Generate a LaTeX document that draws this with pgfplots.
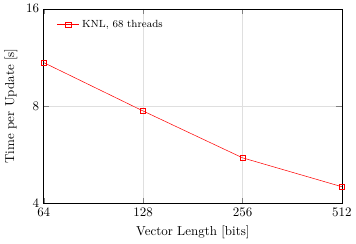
\documentclass[border=0pt]{standalone}
\usepackage{pgfplots}
\pgfplotsset{compat=1.18}
\begin{document}
\begin{tikzpicture}
\begin{axis}[
  width=230pt, height=150pt,
  scale only axis,
  xmode=log, ymode=log,
  log basis x=2, log basis y=2,
  xmin=64, xmax=512, ymin=4, ymax=16,
  xtick={64,128,256,512}, xticklabels={64,128,256,512},
  ytick={4,8,16}, yticklabels={4,8,16},
  xlabel={Vector Length [bits]},
  ylabel={Time per Update [s]},
  grid=major,
  major grid style={gray!25},
  legend pos=north west,
  legend style={draw=none, font=\footnotesize, fill=none},
  legend cell align=left,
]
\addplot[red, mark=square, mark options={fill=white}] coordinates {
(64,10.9) (128,7.72) (256,5.53) (512,4.5)
};
\addlegendentry{KNL, 68 threads}
\end{axis}
\end{tikzpicture}
\end{document}
